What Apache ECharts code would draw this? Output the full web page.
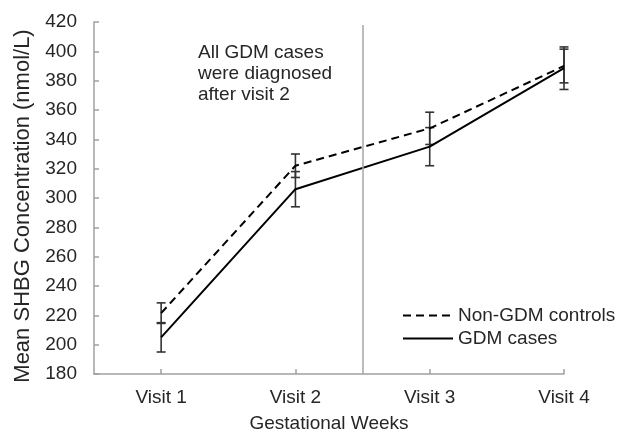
<!DOCTYPE html>
<html>
<head>
<meta charset="utf-8">
<script src="https://cdn.jsdelivr.net/npm/echarts@6/dist/echarts.min.js"></script>
<style>html,body{margin:0;padding:0;background:#fff}#c{width:621px;height:432px}</style>
</head>
<body>
<div id="c"></div>
<script>
const visits = [1, 2, 3, 4];
const visitLabels = ['Visit 1', 'Visit 2', 'Visit 3', 'Visit 4'];
const nonGdmMean = [221.5, 322, 347.5, 390];
const nonGdmErr = [7, 8, 11, 11.5];
const gdmMean = [205, 306, 335, 388.5];
const gdmErr = [10, 12, 13, 14.5];
const yTicks = [180, 420, 20];
const annotation = 'All GDM cases\nwere diagnosed\nafter visit 2';
const dividerX = 2.5;

const FONT = 'Liberation Sans, Arial, sans-serif';
const TXT = '#262626';

function errData(means, errs) {
  return visits.map((v, i) => [v, means[i], errs[i]]);
}
function errRender(params, api) {
  const x = api.value(0), m = api.value(1), e = api.value(2);
  const t = api.coord([x, m + e]);
  const b = api.coord([x, m - e]);
  const hw = 4.5;
  const st = { stroke: '#333', lineWidth: 1.6 };
  return {
    type: 'group',
    children: [
      { type: 'line', shape: { x1: t[0], y1: t[1], x2: b[0], y2: b[1] }, style: st },
      { type: 'line', shape: { x1: t[0] - hw, y1: t[1], x2: t[0] + hw, y2: t[1] }, style: st },
      { type: 'line', shape: { x1: b[0] - hw, y1: b[1], x2: b[0] + hw, y2: b[1] }, style: st }
    ]
  };
}

const chart = echarts.init(document.getElementById('c'));
chart.setOption({
  animation: false,
  textStyle: { fontFamily: FONT },
  grid: { left: 94, right: 57, top: 22, bottom: 58, containLabel: false, outerBoundsMode: 'none' },
  xAxis: {
    type: 'value', min: 0.5, max: 4, interval: 0.5,
    name: 'Gestational Weeks', nameLocation: 'middle', nameGap: 40,
    nameTextStyle: { fontSize: 19, color: TXT, fontFamily: FONT },
    splitLine: { show: false },
    axisLine: { lineStyle: { color: '#a0a0a0', width: 1.5 } },
    axisTick: { inside: true, length: 5, customValues: visits, lineStyle: { color: '#a0a0a0', width: 1.5 } },
    axisLabel: { customValues: visits, fontSize: 19, color: TXT, margin: 14, fontFamily: FONT,
      formatter: v => visitLabels[visits.indexOf(v)] || '' }
  },
  yAxis: {
    type: 'value', min: yTicks[0], max: yTicks[1], interval: yTicks[2],
    name: 'Mean SHBG Concentration (nmol/L)', nameLocation: 'middle', nameGap: 60,
    nameTextStyle: { fontSize: 22, color: TXT, fontFamily: FONT, padding: [0, 16, 0, 0] },
    splitLine: { show: false },
    axisLine: { show: true, lineStyle: { color: '#a0a0a0', width: 1.5 } },
    axisTick: { show: true, inside: true, length: 5, lineStyle: { color: '#a0a0a0', width: 1.5 } },
    axisLabel: { fontSize: 19, color: TXT, margin: 17, fontFamily: FONT }
  },
  legend: {
    orient: 'vertical', left: 397, top: 301,
    itemWidth: 50, itemHeight: 14, itemGap: 4,
    itemStyle: { opacity: 0 },
    textStyle: { fontSize: 19, color: TXT, fontFamily: FONT },
    data: ['Non-GDM controls', 'GDM cases']
  },
  graphic: [{
    type: 'text', left: 198, top: 42,
    style: { text: annotation, fontSize: 19, lineHeight: 21, fill: TXT, fontFamily: FONT }
  }],
  series: [
    { type: 'custom', name: 'errNon', renderItem: errRender, data: errData(nonGdmMean, nonGdmErr), z: 3 },
    { type: 'custom', name: 'errGdm', renderItem: errRender, data: errData(gdmMean, gdmErr), z: 3 },
    {
      type: 'line', name: 'Non-GDM controls', symbol: 'none',
      data: visits.map((v, i) => [v, nonGdmMean[i]]),
      lineStyle: { color: '#000', width: 2, type: [8, 5] }, itemStyle: { color: '#000' },
      z: 4,
      markLine: {
        silent: true, symbol: 'none', label: { show: false },
        lineStyle: { color: '#a6a6a6', width: 1.5, type: 'solid' },
        data: [[{ coord: [dividerX, 180] }, { coord: [dividerX, 418] }]]
      }
    },
    {
      type: 'line', name: 'GDM cases', symbol: 'none',
      data: visits.map((v, i) => [v, gdmMean[i]]),
      lineStyle: { color: '#000', width: 2, type: 'solid' }, itemStyle: { color: '#000' },
      z: 4
    }
  ]
});
</script>
</body>
</html>
